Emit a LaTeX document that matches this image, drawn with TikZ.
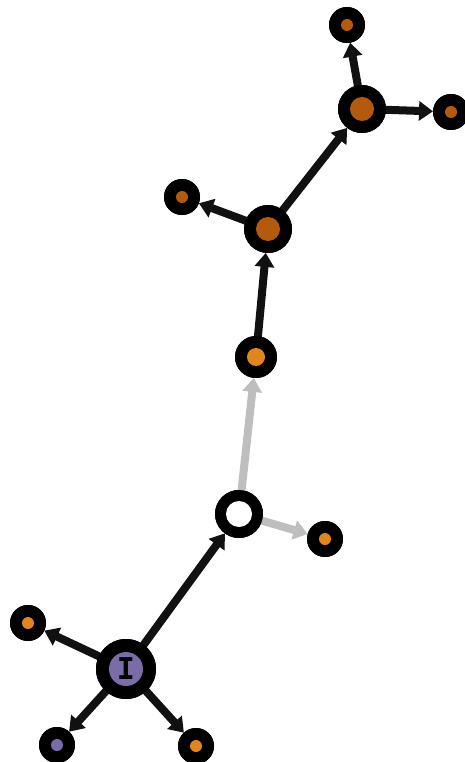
\documentclass[tikz,border=0pt]{standalone}
\usepackage{fontspec}
\newfontfamily\monof{DejaVu Sans Mono}
\usetikzlibrary{arrows.meta}
\definecolor{lorange}{HTML}{E0861C}
\definecolor{dorange}{HTML}{B35A0C}
\definecolor{purp}{HTML}{7B6CA8}
\definecolor{edgegray}{HTML}{BEBEBE}
\definecolor{edgeblack}{HTML}{111111}
\begin{document}
\begin{tikzpicture}[x=1pt,y=-1pt,
  big/.style={circle,fill=black,minimum size=60pt,inner sep=0pt,outer sep=0pt},
  mid/.style={circle,fill=black,minimum size=48pt,inner sep=0pt,outer sep=0pt},
  sml/.style={circle,fill=black,minimum size=42pt,inner sep=0pt,outer sep=0pt},
  leaf/.style={circle,fill=black,minimum size=36pt,inner sep=0pt,outer sep=0pt},
  link/.style={line width=8pt,draw=edgeblack,-{Triangle[length=14pt,width=19pt]}},
  glink/.style={link,draw=edgegray}]
\useasboundingbox (0,0) rectangle (464,762);
\node[big]  (root) at (126,669) {};
\node[leaf] (la) at (28,623) {};
\node[leaf] (lb) at (57,745) {};
\node[leaf] (lc) at (196,746) {};
\node[mid]  (w) at (239,514) {};
\node[leaf] (ld) at (325,539) {};
\node[sml]  (o1) at (256,357) {};
\node[mid]  (o2) at (268,229) {};
\node[leaf] (le) at (182,197) {};
\node[mid]  (o3) at (362,109) {};
\node[leaf] (lf) at (347,25) {};
\node[leaf] (lg) at (451,112) {};
\draw[link] (root.center) -- (la);
\draw[link] (root.center) -- (lb);
\draw[link] (root.center) -- (lc);
\draw[link] (root.center) -- (w);
\draw[glink] (w.center) -- (o1);
\draw[glink] (w.center) -- (ld);
\draw[link] (o1.center) -- (o2);
\draw[link] (o2.center) -- (le);
\draw[link] (o2.center) -- (o3);
\draw[link] (o3.center) -- (lf);
\draw[link] (o3.center) -- (lg);
% redraw node discs on top of the connectors
\foreach \n/\r in {root/30,w/24,o1/21,o2/24,o3/24,la/18,lb/18,lc/18,ld/18,le/18,lf/18,lg/18}
  \fill[black] (\n.center) circle (\r);
\fill[purp] (root.center) circle (17);
\fill[white] (w.center) circle (13);
\fill[lorange] (o1.center) circle (9);
\fill[dorange] (o2.center) circle (12);
\fill[dorange] (o3.center) circle (12);
\fill[lorange] (la.center) circle (6);
\fill[purp] (lb.center) circle (6);
\fill[lorange] (lc.center) circle (6);
\fill[lorange] (ld.center) circle (6);
\fill[dorange] (le.center) circle (6);
\fill[dorange] (lf.center) circle (6);
\fill[dorange] (lg.center) circle (6);
\node[inner sep=0pt] (rootlabel) at (root.center) {\monof\bfseries\fontsize{30}{30}\selectfont I};
\end{tikzpicture}
\end{document}
